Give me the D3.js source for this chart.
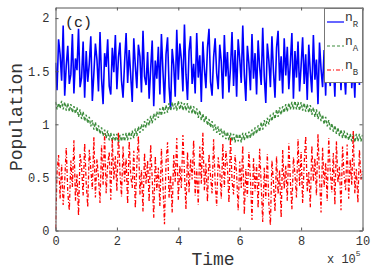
<!DOCTYPE html>
<html>
<head>
<meta charset="utf-8">
<script src="https://cdn.jsdelivr.net/npm/d3@7"></script>
<style>
  body { margin: 0; background: #fff; }
  svg { display: block; }
  .tick text { font-family: "Liberation Mono", "DejaVu Sans Mono", monospace; font-size: 12px; fill: #333; }
</style>
</head>
<body>
<div id="chart"></div>
<script>
// time axis is in units of 10^5, sampled every 0.05
var xTicks = [0, 2, 4, 6, 8, 10];
var yTicks = [0, 0.5, 1, 1.5, 2];
var yTickLabels = ['0', '0.5', '1', '1.5', '2'];

var nR = [
  1.58,1.32,1.80,1.66,1.41,1.93,1.27,1.55,1.74,1.38,
  1.47,1.85,1.29,1.62,1.51,1.90,1.35,1.44,1.78,1.25,
  1.69,1.40,1.57,1.83,1.22,1.48,1.76,1.61,1.31,1.87,
  1.43,1.19,1.67,1.54,1.80,1.36,1.28,1.72,1.49,1.84,
  1.33,1.63,1.77,1.41,1.25,1.58,1.86,1.39,1.70,1.46,
  1.21,1.81,1.55,1.34,1.75,1.64,1.30,1.88,1.45,1.37,
  1.68,1.24,1.52,1.79,1.17,1.60,1.43,1.73,1.28,1.85,
  1.50,1.20,1.66,1.82,1.35,1.14,1.71,1.56,1.26,1.89,
  1.42,1.76,1.61,1.31,1.94,1.47,1.23,1.69,1.83,1.38,
  1.57,1.29,1.86,1.44,1.65,1.21,1.78,1.52,1.34,1.72,
  1.90,1.40,1.27,1.63,1.81,1.48,1.33,1.75,1.59,1.24,
  1.84,1.45,1.68,1.30,1.53,1.87,1.36,1.70,1.26,1.80,
  1.62,1.39,1.93,1.47,1.22,1.74,1.57,1.32,1.85,1.43,
  1.67,1.28,1.79,1.54,1.37,1.91,1.45,1.20,1.76,1.60,
  1.35,1.83,1.50,1.25,1.72,1.88,1.41,1.64,1.29,1.81,
  1.46,1.73,1.33,1.58,1.86,1.24,1.69,1.44,1.78,1.31,
  1.55,1.82,1.38,1.66,1.23,1.75,1.49,1.30,1.84,1.42,
  1.61,1.19,1.77,1.52,1.35,1.70,1.27,1.85,1.47,1.36,
  1.74,1.58,1.26,1.81,1.43,1.65,1.32,1.79,1.50,1.28,
  1.68,1.40,1.87,1.34,1.56,1.25,1.76,1.62,1.37,1.83,
  1.55
];

var nA = [
  1.21,1.14,1.20,1.15,1.22, 1.14,1.21,1.13,1.20,1.12,
  1.19,1.11,1.17,1.10,1.16, 1.07,1.14,1.05,1.12,1.03,
  1.09,1.01,1.07,0.98,1.04, 0.95,1.02,0.93,0.99,0.91,
  0.97,0.89,0.95,0.87,0.94, 0.85,0.92,0.84,0.91,0.84,
  0.91,0.83,0.90,0.84,0.91, 0.84,0.92,0.85,0.93,0.86,
  0.94,0.87,0.96,0.89,0.98, 0.92,1.00,0.94,1.03,0.97,
  1.05,0.99,1.08,1.01,1.10, 1.04,1.12,1.06,1.15,1.08,
  1.17,1.10,1.18,1.11,1.20, 1.13,1.21,1.14,1.20,1.13,
  1.22,1.14,1.21,1.13,1.20, 1.13,1.20,1.11,1.18,1.10,
  1.17,1.09,1.15,1.06,1.13, 1.04,1.10,1.02,1.08,0.99,
  1.05,0.97,1.03,0.94,1.00, 0.92,0.98,0.90,0.96,0.88,
  0.94,0.86,0.93,0.85,0.92, 0.84,0.91,0.83,0.91,0.84,
  0.91,0.83,0.92,0.85,0.92, 0.86,0.93,0.87,0.95,0.89,
  0.97,0.91,0.99,0.93,1.02, 0.95,1.04,0.98,1.06,1.00,
  1.09,1.03,1.11,1.05,1.14, 1.07,1.16,1.09,1.17,1.11,
  1.19,1.12,1.20,1.14,1.21, 1.14,1.22,1.14,1.21,1.13,
  1.21,1.13,1.20,1.12,1.19, 1.11,1.18,1.09,1.16,1.07,
  1.14,1.05,1.12,1.03,1.09, 1.00,1.07,0.98,1.04,0.95,
  1.01,0.93,0.99,0.91,0.97, 0.89,0.95,0.87,0.94,0.86,
  0.92,0.85,0.91,0.84,0.91, 0.83,0.91,0.84,0.91,0.84,
  0.90
];

var nB = [
  0.02,0.55,0.71,0.30,0.62,0.24,0.47,0.78,0.36,0.19,
  0.66,0.41,0.85,0.28,0.53,0.14,0.72,0.60,0.33,0.82,
  0.45,0.22,0.76,0.58,0.39,0.88,0.31,0.67,0.50,0.26,
  0.80,0.43,0.91,0.35,0.62,0.74,0.29,0.86,0.48,0.70,
  0.37,0.93,0.55,0.32,0.79,0.46,0.68,0.25,0.84,0.52,
  0.40,0.75,0.21,0.63,0.89,0.34,0.57,0.18,0.73,0.44,
  0.66,0.27,0.81,0.49,0.12,0.70,0.38,0.59,0.23,0.77,
  0.42,0.06,0.64,0.83,0.31,0.52,0.17,0.71,0.46,0.87,
  0.29,0.61,0.40,0.90,0.55,0.20,0.74,0.36,0.67,0.48,
  0.85,0.33,0.58,0.24,0.79,0.44,0.92,0.38,0.63,0.27,
  0.72,0.51,0.35,0.86,0.45,0.23,0.69,0.57,0.30,0.82,
  0.41,0.75,0.60,0.26,0.88,0.47,0.34,0.71,0.53,0.19,
  0.65,0.40,0.80,0.15,0.58,0.32,0.74,0.49,0.10,0.68,
  0.37,0.62,0.21,0.77,0.43,0.08,0.59,0.30,0.72,0.25,
  0.05,0.66,0.45,0.18,0.70,0.34,0.57,0.12,0.76,0.39,
  0.61,0.28,0.82,0.47,0.20,0.69,0.53,0.31,0.86,0.42,
  0.74,0.26,0.63,0.89,0.37,0.55,0.22,0.80,0.46,0.68,
  0.33,0.91,0.50,0.17,0.78,0.41,0.64,0.28,0.87,0.56,
  0.36,0.73,0.24,0.84,0.45,0.60,0.19,0.79,0.52,0.38,
  0.81,0.30,0.67,0.43,0.94,0.35,0.58,0.26,0.76,0.48,
  0.56
];

var series = [
  {key: 'R', values: nR, color: '#0000ff', dash: null, w: 1.6},
  {key: 'A', values: nA, color: '#3c8c3c', dash: '3,2', w: 1.4},
  {key: 'B', values: nB, color: '#ff0000', dash: '4,2,1,2', w: 1.3}
];

var width = 374, height = 269;
var mono = '"Liberation Mono", "DejaVu Sans Mono", monospace';

var svg = d3.select('#chart').append('svg')
  .attr('width', width)
  .attr('height', height);

var x = d3.scaleLinear().domain([0, 10]).range([55.5, 362.5]);
var y = d3.scaleLinear().domain([0, 2.1]).range([230.5, 7.5]);

svg.append('clipPath').attr('id', 'plotclip')
  .append('rect')
  .attr('x', x(0)).attr('y', y(2.1))
  .attr('width', x(10) - x(0)).attr('height', y(0) - y(2.1));

var step = 10 / (nR.length - 1);
var line = d3.line()
  .x(function(d, i) { return x(i * step); })
  .y(function(d) { return y(d); });

var plot = svg.append('g').attr('clip-path', 'url(#plotclip)');
series.forEach(function(s) {
  plot.append('path')
    .datum(s.values)
    .attr('d', line)
    .attr('fill', 'none')
    .attr('stroke', s.color)
    .attr('stroke-width', s.w)
    .attr('stroke-dasharray', s.dash);
});

// axes, matlab style box with inward ticks
var axisColor = '#555';
svg.append('g')
  .attr('transform', 'translate(0,' + y(0) + ')')
  .call(d3.axisBottom(x).tickValues(xTicks).tickSizeInner(-3).tickSizeOuter(0).tickPadding(6).tickFormat(d3.format('d')));
svg.append('g')
  .attr('transform', 'translate(0,' + y(2.1) + ')')
  .call(d3.axisTop(x).tickValues(xTicks).tickSizeInner(-3).tickSizeOuter(0).tickFormat(''));
svg.append('g')
  .attr('transform', 'translate(' + x(0) + ',0)')
  .call(d3.axisLeft(y).tickValues(yTicks).tickSizeInner(-3).tickSizeOuter(0).tickPadding(6)
    .tickFormat(function(d, i) { return yTickLabels[i]; }));
svg.append('g')
  .attr('transform', 'translate(' + x(10) + ',0)')
  .call(d3.axisRight(y).tickValues(yTicks).tickSizeInner(-3).tickSizeOuter(0).tickFormat(''));

svg.selectAll('.domain').attr('stroke', axisColor);
svg.selectAll('.tick line').attr('stroke', axisColor);

// legend
var lg = svg.append('g').attr('transform', 'translate(324,8)');
lg.append('rect')
  .attr('x', 0.5).attr('y', 0.5)
  .attr('width', 38).attr('height', 74)
  .attr('fill', '#fff')
  .attr('stroke', '#777');
series.forEach(function(s, i) {
  var yy = 14 + i * 24;
  lg.append('line')
    .attr('x1', 3).attr('x2', 20)
    .attr('y1', yy).attr('y2', yy)
    .attr('stroke', s.color)
    .attr('stroke-width', 1.2)
    .attr('stroke-dasharray', s.dash);
  var t = lg.append('text')
    .attr('x', 21).attr('y', yy - 1)
    .attr('font-family', mono)
    .attr('font-size', 13)
    .attr('fill', '#333')
    .text('n');
  t.append('tspan')
    .attr('dy', 6)
    .attr('font-size', 9)
    .text(s.key);
});

// labels
svg.append('text')
  .attr('x', 65).attr('y', 27)
  .attr('font-family', mono)
  .attr('font-size', 15)
  .attr('fill', '#222')
  .text('(c)');

svg.append('text')
  .attr('x', 213).attr('y', 265)
  .attr('text-anchor', 'middle')
  .attr('font-family', mono)
  .attr('font-size', 18)
  .attr('fill', '#333')
  .text('Time');

svg.append('text')
  .attr('transform', 'translate(22,117) rotate(-90)')
  .attr('text-anchor', 'middle')
  .attr('font-family', mono)
  .attr('font-size', 18)
  .attr('fill', '#333')
  .text('Population');

var ex = svg.append('text')
  .attr('x', 327).attr('y', 263)
  .attr('font-family', mono)
  .attr('font-size', 12)
  .attr('fill', '#333')
  .text('x 10');
ex.append('tspan')
  .attr('dy', -7)
  .attr('font-size', 8)
  .text('5');
</script>
</body>
</html>
